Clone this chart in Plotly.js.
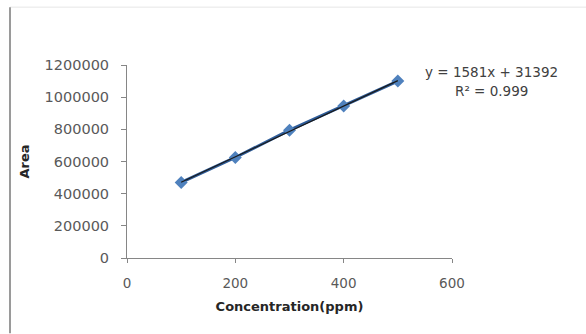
<!DOCTYPE html>
<html>
<head>
<meta charset="utf-8">
<script src="https://cdn.plot.ly/plotly-3.0.1.min.js"></script>
<style>html,body{margin:0;padding:0;background:#fff;}#chart{width:586px;height:334px;}</style>
</head>
<body>
<div id="chart"></div>
<script>
const concentration = [100, 200, 300, 400, 500];
const area = [470000, 625000, 795000, 945000, 1100000];
const xTicks = [0, 200, 400, 600];
const yTicks = [0, 200000, 400000, 600000, 800000, 1000000, 1200000];
const equationText = 'y = 1581x + 31392';
const r2Text = 'R² = 0.999';

// least-squares trendline computed from the data
const n = concentration.length;
const mx = concentration.reduce((a, b) => a + b, 0) / n;
const my = area.reduce((a, b) => a + b, 0) / n;
let sxy = 0, sxx = 0;
for (let i = 0; i < n; i++) { sxy += (concentration[i] - mx) * (area[i] - my); sxx += (concentration[i] - mx) ** 2; }
const slope = sxy / sxx, intercept = my - slope * mx;
const tx = [Math.min(...concentration), Math.max(...concentration)];
const ty = tx.map(v => slope * v + intercept);

const font = 'DejaVu Sans, sans-serif';
const PW = 325, PH = 193.5, L = 127, T = 65;
const px = v => (v - L) / PW;
const py = v => (T + PH - v) / PH;

const data = [
  {x: concentration, y: area, type: 'scatter', mode: 'lines+markers',
   line: {color: '#2E5C99', width: 3},
   marker: {symbol: 'diamond', size: 10, color: '#4F81BD'}, hoverinfo: 'none'},
  {x: tx, y: ty, type: 'scatter', mode: 'lines',
   line: {color: '#1a1a1a', width: 1.2}, hoverinfo: 'none'}
];
const layout = {
  width: 586, height: 334,
  margin: {l: L, r: 586 - L - PW, t: T, b: 334 - T - PH},
  paper_bgcolor: '#ffffff', plot_bgcolor: '#ffffff',
  showlegend: false,
  xaxis: {range: [0, 600], tickvals: xTicks, ticktext: xTicks.map(String),
    showgrid: false, zeroline: false, showline: true, linecolor: '#868686', linewidth: 1,
    ticks: 'outside', ticklen: 4, tickcolor: '#868686', ticklabelstandoff: 9,
    tickfont: {family: font, size: 13.5, color: '#595959'},
    title: {text: '<b>Concentration(ppm)</b>', font: {family: font, size: 13, color: '#262626'}, standoff: 11}},
  yaxis: {range: [0, 1200000], tickvals: yTicks, ticktext: yTicks.map(String),
    showgrid: false, zeroline: false, showline: true, linecolor: '#868686', linewidth: 1,
    ticks: 'outside', ticklen: 5, tickcolor: '#868686', ticklabelstandoff: 9,
    tickfont: {family: font, size: 14.5, color: '#595959'},
    title: {text: '<b>Area</b>', font: {family: font, size: 13, color: '#262626'}, standoff: 11}},
  annotations: [
    {xref: 'paper', yref: 'paper', x: px(491), y: py(72.5), xanchor: 'center', yanchor: 'middle',
     text: equationText, showarrow: false, font: {family: font, size: 13.5, color: '#404040'}},
    {xref: 'paper', yref: 'paper', x: px(491), y: py(91.5), xanchor: 'center', yanchor: 'middle',
     text: r2Text, showarrow: false, font: {family: font, size: 13.5, color: '#404040'}}
  ],
  shapes: [
    {type: 'line', xref: 'paper', yref: 'paper', x0: px(10), x1: px(586), y0: py(7), y1: py(7),
     line: {color: '#e6e6e6', width: 1}},
    {type: 'line', xref: 'paper', yref: 'paper', x0: px(10), x1: px(10), y0: py(7), y1: py(334),
     line: {color: '#9a9a9a', width: 2}}
  ]
};
Plotly.newPlot('chart', data, layout, {staticPlot: true, displayModeBar: false});
</script>
</body>
</html>
